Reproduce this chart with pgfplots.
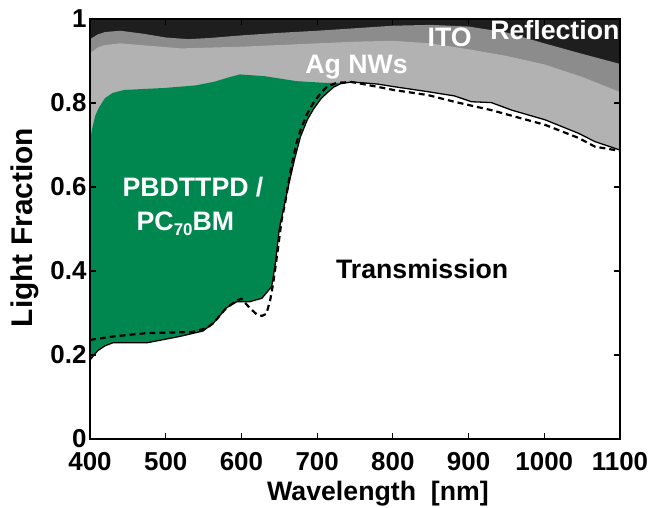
\documentclass[border=0pt]{standalone}
\usepackage{pgfplots}
\pgfplotsset{compat=1.18}
\usepackage{fontspec}
\setmainfont{Liberation Sans}
\definecolor{refl}{RGB}{30,30,30}
\definecolor{ito}{RGB}{140,140,140}
\definecolor{agnw}{RGB}{178,178,178}
\definecolor{pgreen}{RGB}{0,135,80}
\newcommand{\bigf}{\fontsize{26.8}{31}\selectfont\bfseries}
\newcommand{\tickf}{\fontsize{26}{30}\selectfont\bfseries}
\newcommand{\ylabf}{\fontsize{30}{34}\selectfont\bfseries}
\begin{document}
\begin{tikzpicture}
\begin{axis}[
  scale only axis, width=530bp, height=420bp,
  xmin=400, xmax=1100, ymin=0, ymax=1,
  xtick={400,500,600,700,800,900,1000,1100},
  xticklabels={400,500,600,700,800,900,1000,1100},
  ytick={0,0.2,0.4,0.6,0.8,1},
  yticklabels={0,0.2,0.4,0.6,0.8,1},
  tick align=inside, major tick length=6bp,
  axis line style={line width=1.5pt},
  tick style={line width=1.2pt, black},
  axis on top,
  tick label style={font=\tickf},
  xticklabel style={anchor=base, yshift=-31bp},
  /pgf/number format/assume math mode=true,
  xlabel={Wavelength~~[nm]}, ylabel={Light Fraction},
  xlabel style={font=\bigf, at={(axis description cs:0.5434,-0.1476)}, anchor=base, inner sep=0pt},
  ylabel style={font=\ylabf, at={(axis description cs:-0.1094,0.5036)}, rotate=0, anchor=base, inner sep=0pt},
]
\coordinate (ll) at (rel axis cs:0,0);
\coordinate (ur) at (rel axis cs:1,1);
% Reflection (whole area)
\addplot[fill=refl, draw=none] coordinates {(400,1) (1100,1)} \closedcycle;
% ITO
\addplot[fill=ito, draw=none] coordinates {
(400,0.952)(410,0.963)(420,0.969)(440,0.972)(470,0.965)(500,0.956)(530,0.952)(560,0.955)(600,0.961)(650,0.967)(700,0.972)(750,0.978)(800,0.984)(850,0.986)(900,0.982)(950,0.968)(1000,0.942)(1050,0.917)(1100,0.893)} \closedcycle;
% Ag NWs
\addplot[fill=agnw, draw=none] coordinates {
(400,0.918)(410,0.932)(420,0.938)(440,0.942)(480,0.936)(520,0.930)(560,0.932)(600,0.934)(650,0.938)(700,0.942)(750,0.946)(800,0.948)(850,0.942)(900,0.928)(950,0.912)(1000,0.892)(1050,0.862)(1100,0.826)} \closedcycle;
% PBDTTPD / PC70BM
\addplot[fill=pgreen, draw=none] coordinates {
(400,0.71)(403,0.74)(407,0.77)(412,0.79)(420,0.812)(430,0.824)(445,0.831)(500,0.836)(540,0.842)(565,0.851)(585,0.862)(598,0.868)(630,0.864)(673,0.852)(710,0.848)(742,0.848)} \closedcycle;
% Transmission fill
\addplot[fill=white, draw=none] coordinates {
(400,0.188)(410,0.210)(420,0.222)(430,0.229)(475,0.229)(518,0.244)(549,0.257)(563,0.276)(580,0.312)(594,0.327)(611,0.327)(627,0.335)(640,0.363)(645,0.42)(650,0.50)(657,0.56)(663,0.61)(670,0.665)(678,0.72)(687,0.76)(695,0.785)(705,0.81)(713,0.824)(722,0.838)(731,0.846)(745,0.850)(761,0.848)(780,0.845)(801,0.839)(846,0.827)(881,0.817)(904,0.803)(930,0.801)(957,0.783)(1001,0.760)(1045,0.728)(1067,0.708)(1100,0.688)} \closedcycle;
% Transmission line
\addplot[black, line width=1.3pt] coordinates {
(400,0.188)(410,0.210)(420,0.222)(430,0.229)(475,0.229)(518,0.244)(549,0.257)(563,0.276)(580,0.312)(594,0.327)(611,0.327)(627,0.335)(640,0.363)(645,0.42)(650,0.50)(657,0.56)(663,0.61)(670,0.665)(678,0.72)(687,0.76)(695,0.785)(705,0.81)(713,0.824)(722,0.838)(731,0.846)(745,0.850)(761,0.848)(780,0.845)(801,0.839)(846,0.827)(881,0.817)(904,0.803)(930,0.801)(957,0.783)(1001,0.760)(1045,0.728)(1067,0.708)(1100,0.688)};
% Dashed line
\addplot[black, line width=2.2pt, dash pattern=on 6pt off 4pt] coordinates {
(400,0.236)(430,0.244)(474,0.252)(536,0.255)(554,0.264)(563,0.276)(580,0.312)(594,0.330)(600,0.334)(611,0.312)(620,0.297)(627,0.293)(633,0.298)(638,0.331)(642,0.371)(648,0.45)(653,0.52)(658,0.565)(665,0.64)(672,0.70)(678,0.736)(687,0.775)(695,0.80)(705,0.824)(713,0.839)(726,0.848)(745,0.850)(761,0.845)(801,0.831)(846,0.819)(881,0.803)(930,0.783)(1001,0.748)(1045,0.717)(1067,0.696)(1100,0.686)};
% Labels
\node[white, font=\bigf, anchor=base] at (axis cs:1014,0.9517) {Reflection};
\node[white, font=\bigf, anchor=base] at (axis cs:875,0.934) {ITO};
\node[white, font=\bigf, anchor=base] at (axis cs:752,0.8707) {Ag NWs};
\node[white, font=\bigf, anchor=base] at (axis cs:536,0.5769) {PBDTTPD /};
\node[white, font=\bigf, anchor=base] at (axis cs:526,0.4976) {PC\raisebox{-5bp}{\fontsize{17}{20}\selectfont 70}BM};
\node[black, font=\bigf, anchor=base] at (axis cs:838.7,0.3833) {Transmission};
\end{axis}
\pgfresetboundingbox
\path ([shift={(-90bp,-69bp)}]ll) rectangle ([shift={(32bp,19bp)}]ur);
\end{tikzpicture}
\end{document}
